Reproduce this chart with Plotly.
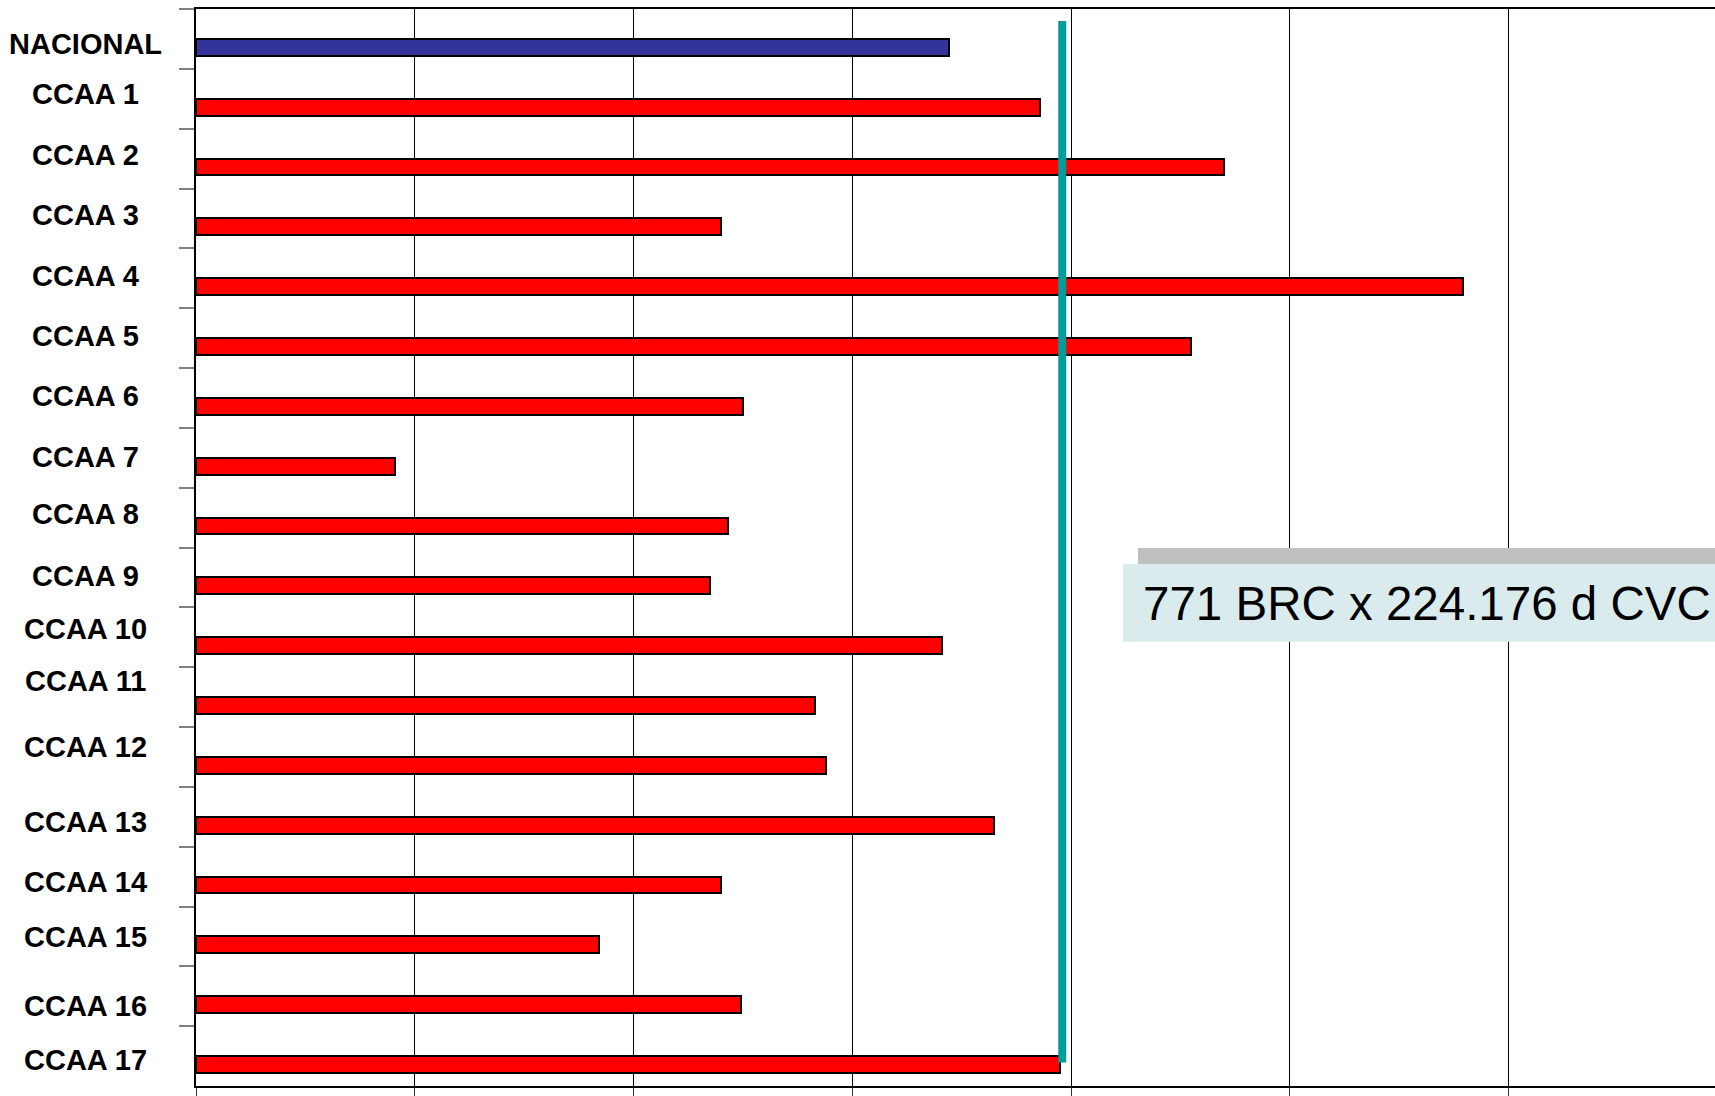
import plotly.graph_objects as go

# ---- data ----
categories = ["NACIONAL", "CCAA 1", "CCAA 2", "CCAA 3", "CCAA 4", "CCAA 5", "CCAA 6",
              "CCAA 7", "CCAA 8", "CCAA 9", "CCAA 10", "CCAA 11", "CCAA 12", "CCAA 13",
              "CCAA 14", "CCAA 15", "CCAA 16", "CCAA 17"]
values = [3.44, 3.86, 4.70, 2.40, 5.79, 4.55, 2.50, 0.91, 2.43, 2.35, 3.41, 2.83,
          2.88, 3.65, 2.40, 1.84, 2.49, 3.95]
reference_value = 3.96
box_text = "771 BRC x 224.176 d CVC"

# ---- style ----
W, H = 1715, 1096
ML, MR, MT, MB = 196, 0, 9, 10
plot_w = W - ML - MR
plot_h = H - MT - MB
unit_px = 218.75
x_max = plot_w / unit_px
font_fam = "Liberation Sans, Arial, sans-serif"
label_shift = [4.8, -4.6, -3.6, -3.5, -2.5, -2.3, -1.8, -0.3, -3.8, -1.7, -8.5,
               -15.8, -10.0, 5.7, 5.0, 1.0, 9.5, 4.0]  # px down from band centre


def px_x(px):  # page px -> paper x
    return (px - ML) / plot_w


def px_y(py):  # page px -> paper y
    return (H - MB - py) / plot_h


colors = ["#333399"] + ["#FF0000"] * (len(categories) - 1)

fig = go.Figure()
fig.add_trace(go.Bar(
    y=categories, x=values, orientation="h",
    marker=dict(color=colors, line=dict(color="#000000", width=2)),
    width=0.28, offset=0, showlegend=False, hoverinfo="x+y",
))

shapes = [
    # reference line
    dict(type="line", xref="x", yref="paper", x0=reference_value, x1=reference_value,
         y0=px_y(1062.5), y1=px_y(21), line=dict(color="#009C99", width=8), layer="above"),
    # text box shadow + box
    dict(type="rect", xref="paper", yref="paper", x0=px_x(1138), x1=px_x(1800),
         y0=px_y(564), y1=px_y(548), fillcolor="#BFBFBF", line=dict(width=0), layer="above"),
    dict(type="rect", xref="paper", yref="paper", x0=px_x(1123), x1=px_x(1800),
         y0=px_y(641.7), y1=px_y(564), fillcolor="#DAEBEE", line=dict(width=0), layer="above"),
]

annotations = [
    dict(text=box_text, xref="paper", yref="paper", x=px_x(1141), y=px_y(603),
         xanchor="left", yanchor="middle", showarrow=False,
         font=dict(family=font_fam, size=47.5, color="#000000")),
]
for cat, dy in zip(categories, label_shift):
    annotations.append(dict(
        text="<b>%s</b>" % cat, xref="paper", yref="y", x=px_x(86), y=cat,
        xanchor="center", yanchor="middle", showarrow=False, yshift=-dy,
        font=dict(family=font_fam, size=29, color="#000000")))

fig.update_layout(
    width=W, height=H,
    margin=dict(l=ML, r=MR, t=MT, b=MB, pad=0),
    paper_bgcolor="#FFFFFF", plot_bgcolor="#FFFFFF",
    shapes=shapes, annotations=annotations,
    bargap=0,
    xaxis=dict(range=[0, x_max], tick0=0, dtick=1, showticklabels=False,
               showgrid=True, gridcolor="#000000", gridwidth=1, zeroline=False,
               showline=True, linecolor="#000000", linewidth=2, mirror=True,
               ticks="outside", ticklen=10, tickwidth=1, tickcolor="#333333",
               fixedrange=True),
    yaxis=dict(type="category", categoryorder="array", categoryarray=categories,
               range=[len(categories) - 0.5, -0.5], showticklabels=False,
               showgrid=False, zeroline=False,
               showline=True, linecolor="#000000", linewidth=2, mirror=False,
               ticks="outside", tickson="boundaries", ticklen=15, tickwidth=2,
               tickcolor="#808080", fixedrange=True),
)

fig.write_html(
    "out.html",
    config={"displayModeBar": False},
    post_script="document.body.style.margin='0';document.body.style.overflow='hidden';",
)
